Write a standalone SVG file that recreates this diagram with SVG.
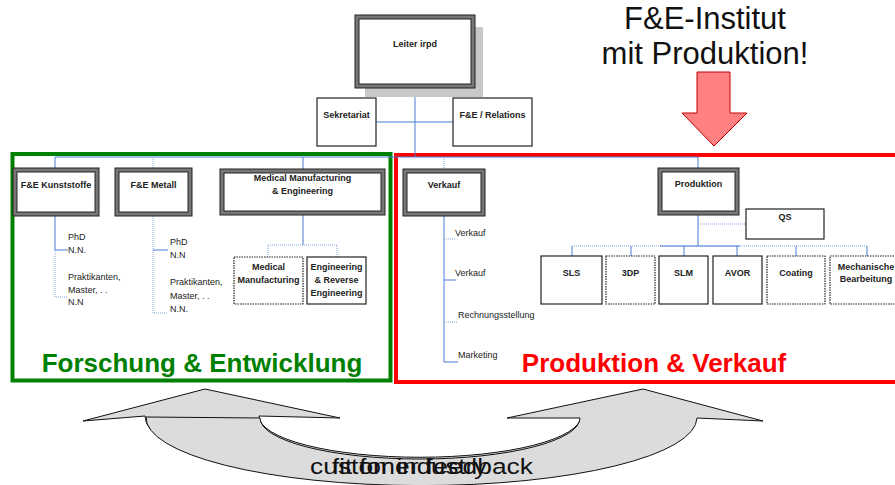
<svg xmlns="http://www.w3.org/2000/svg" width="895" height="485" viewBox="0 0 895 485">
  <style>
    .lbl { font-family: "Liberation Sans", Arial, sans-serif; font-size: 9px; font-weight: bold; fill: #222; text-anchor: middle; }
    .sub { font-family: "Liberation Sans", Arial, sans-serif; font-size: 9px; fill: #1a1a1a; }
    .box { fill: #fff; stroke: #222; stroke-width: 1.2; }
    .dbl-out { fill: #fff; stroke: #777; stroke-width: 4; }
    .dbl-in { fill: none; stroke: #222; stroke-width: 1; }
    .dbl-edge { fill: none; stroke: #222; stroke-width: 1; }
    .ln { fill: none; stroke: #4a7fd4; stroke-width: 1; }
    .dot { fill: none; stroke: #7fa3e0; stroke-width: 1; stroke-dasharray: 1 1; }
    .big { font-family: "Liberation Sans", Arial, sans-serif; font-size: 26px; font-weight: bold; text-anchor: middle; }
    .head { font-family: "Liberation Sans", Arial, sans-serif; font-size: 31px; fill: #111; text-anchor: middle; }
    .loop { fill: #dcdcdc; stroke: #111; stroke-width: 1; }
    .loop-txt { font-family: "Liberation Sans", Arial, sans-serif; font-size: 22px; fill: #111; }
  </style>

  <!-- area frames -->
  <rect x="12.5" y="154" width="378" height="226.5" fill="none" stroke="#008000" stroke-width="4"/>
  <rect x="396" y="155" width="510" height="227" fill="none" stroke="#ff0000" stroke-width="4"/>

  <!-- connectors -->
  <g id="connectors">
    <path class="ln" d="M415,86 V157 M376,122 H453"/>
    <path class="ln" d="M55,157 H698"/>
    <path class="ln" d="M55,157 V168 M303,157 V169 M698,157 V168"/>
    <path class="dot" d="M153,157 V168 M444,157 V169"/>
    <!-- F&E Kunststoffe -->
    <path class="ln" d="M55,216 V250 H68"/>
    <path class="dot" d="M55,250 V297 H68"/>
    <!-- F&E Metall -->
    <path class="dot" d="M153,216 V313 H168"/>
    <path class="ln" d="M153,250 H168"/>
    <!-- Medical Manufacturing & Engineering -->
    <path class="ln" d="M303,215 V245"/>
    <path class="dot" d="M268,257 V245 H337 V257"/>
    <!-- Verkauf -->
    <path class="ln" d="M444,216 V362 H458 M444,280 H456"/>
    <path class="dot" d="M444,239 H456 M444,322 H458"/>
    <!-- Produktion -->
    <path class="ln" d="M698,215 V246"/>
    <path class="dot" d="M698,224 H746"/>
    <path class="dot" d="M572,246 H867"/>
    <path class="ln" d="M572,246 V256 M631,246 V256 M684,246 V256 M737,246 V256 M796,246 V256 M867,246 V256 M660,246 H740"/>
  </g>

  <!-- head of institute -->
  <g id="leiter">
    <rect x="365" y="27" width="118" height="70" fill="#c8c8c8"/>
    <rect class="dbl-out" x="357" y="17" width="116" height="69"/>
    <rect class="dbl-edge" x="355" y="15" width="120" height="73"/>
    <rect class="dbl-in" x="359" y="19" width="112" height="65"/>
    <text class="lbl" x="415" y="47">Leiter irpd</text>
  </g>
  <g id="sekretariat">
    <rect class="box" x="317" y="98" width="59" height="48"/>
    <text class="lbl" x="346.5" y="118">Sekretariat</text>
  </g>
  <g id="relations">
    <rect class="box" x="453" y="98" width="79" height="48"/>
    <text class="lbl" x="492.5" y="118">F&amp;E / Relations</text>
  </g>

  <!-- research departments -->
  <g id="kunststoffe">
    <rect class="dbl-out" x="15" y="170" width="82" height="44"/>
    <rect class="dbl-edge" x="13" y="168" width="86" height="48"/>
    <rect class="dbl-in" x="17" y="172" width="78" height="40"/>
    <text class="lbl" x="56" y="188">F&amp;E Kunststoffe</text>
    <text class="sub" x="68" y="240">PhD</text>
    <text class="sub" x="68" y="253">N.N.</text>
    <text class="sub" x="68" y="280">Praktikanten,</text>
    <text class="sub" x="68" y="293">Master, . .</text>
    <text class="sub" x="68" y="305">N.N</text>
  </g>
  <g id="metall">
    <rect class="dbl-out" x="117" y="170" width="73" height="44"/>
    <rect class="dbl-edge" x="115" y="168" width="77" height="48"/>
    <rect class="dbl-in" x="119" y="172" width="69" height="40"/>
    <text class="lbl" x="153.5" y="188">F&amp;E Metall</text>
    <text class="sub" x="170" y="245">PhD</text>
    <text class="sub" x="170" y="258">N.N</text>
    <text class="sub" x="170" y="285">Praktikanten,</text>
    <text class="sub" x="170" y="299">Master, . .</text>
    <text class="sub" x="170" y="312">N.N.</text>
  </g>
  <g id="medical-engineering">
    <rect class="dbl-out" x="222" y="171" width="161" height="42"/>
    <rect class="dbl-edge" x="220" y="169" width="165" height="46"/>
    <rect class="dbl-in" x="224" y="173" width="157" height="38"/>
    <text class="lbl" x="302.5" y="181">Medical Manufacturing</text>
    <text class="lbl" x="302.5" y="194">&amp; Engineering</text>
  </g>
  <g id="medical-manufacturing">
    <rect class="box" x="234" y="257" width="69" height="47" stroke-dasharray="1.5 1"/>
    <text class="lbl" x="268.5" y="270">Medical</text>
    <text class="lbl" x="268.5" y="283">Manufacturing</text>
  </g>
  <g id="reverse-engineering">
    <rect class="box" x="307" y="257" width="59" height="47"/>
    <text class="lbl" x="336.5" y="270">Engineering</text>
    <text class="lbl" x="336.5" y="283">&amp; Reverse</text>
    <text class="lbl" x="336.5" y="296">Engineering</text>
  </g>

  <!-- sales -->
  <g id="verkauf">
    <rect class="dbl-out" x="405" y="171" width="78" height="43"/>
    <rect class="dbl-edge" x="403" y="169" width="82" height="47"/>
    <rect class="dbl-in" x="407" y="173" width="74" height="39"/>
    <text class="lbl" x="444" y="188">Verkauf</text>
    <text class="sub" x="455" y="236">Verkauf</text>
    <text class="sub" x="455" y="276">Verkauf</text>
    <text class="sub" x="458" y="318">Rechnungsstellung</text>
    <text class="sub" x="458" y="358">Marketing</text>
  </g>

  <!-- production -->
  <g id="produktion">
    <rect class="dbl-out" x="660" y="170" width="77" height="43"/>
    <rect class="dbl-edge" x="658" y="168" width="81" height="47"/>
    <rect class="dbl-in" x="662" y="172" width="73" height="39"/>
    <text class="lbl" x="698.5" y="187">Produktion</text>
  </g>
  <g id="qs">
    <rect class="box" x="746" y="209" width="78" height="30"/>
    <text class="lbl" x="785" y="220">QS</text>
  </g>
  <g id="sls">
    <rect class="box" x="541" y="256" width="61" height="48"/>
    <text class="lbl" x="571.5" y="276">SLS</text>
  </g>
  <g id="3dp">
    <rect class="box" x="606" y="256" width="49" height="48" stroke-dasharray="1.5 1"/>
    <text class="lbl" x="630.5" y="276">3DP</text>
  </g>
  <g id="slm">
    <rect class="box" x="659" y="256" width="49" height="48"/>
    <text class="lbl" x="683.5" y="276">SLM</text>
  </g>
  <g id="avor">
    <rect class="box" x="713" y="256" width="49" height="48"/>
    <text class="lbl" x="737.5" y="276">AVOR</text>
  </g>
  <g id="coating">
    <rect class="box" x="767" y="256" width="58" height="48" stroke-dasharray="1.5 1"/>
    <text class="lbl" x="796" y="276">Coating</text>
  </g>
  <g id="mechanische">
    <rect class="box" x="830" y="256" width="72" height="48" stroke-dasharray="1.5 1"/>
    <text class="lbl" x="866" y="270">Mechanische</text>
    <text class="lbl" x="866" y="282">Bearbeitung</text>
  </g>

  <!-- area titles -->
  <text class="big" x="202" y="372" fill="#008000">Forschung &amp; Entwicklung</text>
  <text class="big" x="654" y="372" fill="#ff0000">Produktion &amp; Verkauf</text>

  <!-- headline and pointer -->
  <text class="head" x="705" y="29">F&amp;E-Institut</text>
  <text class="head" x="705" y="64">mit Produktion!</text>
  <polygon points="697,72 730,72 730,113 747,113 714,146 682,113 697,113" fill="#ff8080" stroke="#c00000" stroke-width="1"/>

  <!-- feedback loop -->
  <g id="loop">
    <path class="loop" d="M695,416 A275,68 0 0 1 145,416 L83,421 L205,389 L340,418 L259,416 A160,41 0 0 0 581,416 Z"/>
    <path class="loop" d="M146,417 A275,68 0 0 0 697,418 L763,421 L643,389 L507,418 L580,418 A160,41 0 0 1 260,418 Z"/>
    <text class="loop-txt" x="310" y="474" textLength="223" lengthAdjust="spacingAndGlyphs">customer feedback</text>
    <text class="loop-txt" x="332" y="474" textLength="155" lengthAdjust="spacingAndGlyphs">fit for industry</text>
  </g>
</svg>
